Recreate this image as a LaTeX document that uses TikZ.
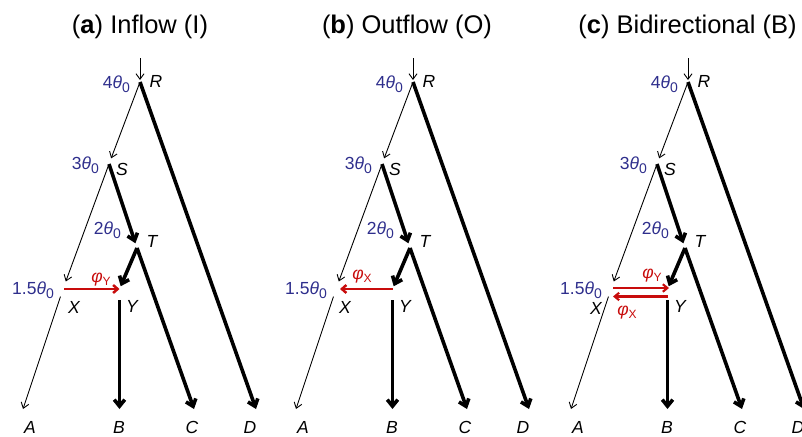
\documentclass[tikz,border=0pt]{standalone}
\usepackage{fontspec}
\setmainfont{Liberation Sans}
\usetikzlibrary{arrows.meta}
\definecolor{lblue}{RGB}{46,46,140}
\definecolor{mred}{RGB}{200,12,12}
\newcommand{\lowsub}[1]{\raisebox{-4.5pt}{\fontsize{14}{14}\selectfont #1}}
\newcommand{\thz}{\textit{θ}\lowsub{0}}
\newcommand{\phsub}[1]{\textit{φ}\raisebox{-2.5pt}{\fontsize{12}{12}\selectfont #1}}
\tikzset{
  thinbr/.style={line width=0.9pt, -{Straight Barb[length=5.5pt,width=8pt]}},
  thickbr/.style={line width=3.6pt, -{Straight Barb[length=6.5pt,width=10.5pt]}},
  flowarr/.style={draw=mred, line width=2.5pt, -{Straight Barb[length=4.5pt,width=8pt]}},
  flowarrc/.style={draw=mred, line width=2.1pt, -{Straight Barb[length=4.5pt,width=7.5pt]}},
  lbl/.style={inner sep=0pt, font=\fontsize{17.5}{20}\selectfont\itshape},
  tht/.style={inner sep=0pt, text=lblue, font=\fontsize{17.5}{20}\selectfont},
  flbl/.style={inner sep=0pt, text=mred, font=\fontsize{17.5}{20}\selectfont},
  ttl/.style={inner sep=0pt, font=\fontsize{25.5}{30}\selectfont}
}
\newcommand{\treebase}{%
  \coordinate (top) at (140,58);
  \coordinate (R) at (140,82);
  \coordinate (S) at (109,164);
  \coordinate (T) at (137,248);
  \coordinate (X) at (63,289);
  \coordinate (Y) at (119.5,289);
  \coordinate (A) at (23,409);
  \coordinate (B) at (119.5,409);
  \coordinate (C) at (194,409);
  \coordinate (D) at (256,409);
  \draw[thinbr, shorten >=2pt] (top) -- (R);
  \draw[thinbr, shorten >=6pt, shorten <=2pt] (R) -- (S);
  \draw[thickbr] (R) -- (D);
  \draw[thinbr, shorten >=8pt, shorten <=2pt] (S) -- (X);
  \draw[thickbr, shorten >=5pt] (S) -- (T);
  \draw[thickbr, shorten >=3pt] (T) -- (Y);
  \draw[thickbr] (T) -- (C);
  \draw[thinbr, shorten <=8pt] (X) -- (A);
  \draw[thickbr, shorten <=11pt] (Y) -- (B);
  \node[tht, anchor=east] (l4) at (130,84) {4\thz};
  \node[lbl] (lR) at (156,81) {R};
  \node[tht, anchor=east] (l3) at (99,165) {3\thz};
  \node[lbl] (lS) at (122,169) {S};
  \node[tht, anchor=east] (l2) at (121,230) {2\thz};
  \node[lbl] (lT) at (152,241) {T};
  \node[tht, anchor=east] (l15) at (54,290) {1.5\thz};
  \node[lbl] (lY) at (132,306) {Y};
  \node[lbl] (lA) at (30,427) {A};
  \node[lbl] (lB) at (119,427) {B};
  \node[lbl] (lC) at (192,427) {C};
  \node[lbl] (lD) at (250,427) {D};
}
\begin{document}
\begin{tikzpicture}[x=1pt, y=-1pt]
\useasboundingbox (0,0) rectangle (802,436);
% panel a
\begin{scope}[name prefix=a-]
  \treebase
  \node[ttl] (title) at (140,27) {(\textbf{a}) Inflow (I)};
  \node[lbl] (lX) at (74,307) {X};
  \draw[flowarr, shorten <=1pt] (X) -- (Y);
  \node[flbl] (phi) at (101,280) {\phsub{Y}};
\end{scope}
% panel b
\begin{scope}[shift={(273,0)}, name prefix=b-]
  \treebase
  \node[ttl] (title) at (134,27) {(\textbf{b}) Outflow (O)};
  \node[lbl] (lX) at (72,307) {X};
  \draw[flowarr, shorten >=4pt] (Y) -- (X);
  \node[flbl] (phi) at (89,277) {\phsub{X}};
\end{scope}
% panel c
\begin{scope}[shift={(548,0)}, name prefix=c-]
  \treebase
  \node[ttl] (title) at (139.5,27) {(\textbf{c}) Bidirectional (B)};
  \node[lbl] (lX) at (48,308) {X};
  \coordinate (Xu) at (65,288);
  \coordinate (Yu) at (121,288);
  \coordinate (Xd) at (65,296.5);
  \coordinate (Yd) at (120,296.5);
  \draw[flowarrc] (Xu) -- (Yu);
  \draw[flowarrc] (Yd) -- (Xd);
  \node[flbl] (phiY) at (104,276) {\phsub{Y}};
  \node[flbl] (phiX) at (79,313) {\phsub{X}};
\end{scope}
\end{tikzpicture}
\end{document}
